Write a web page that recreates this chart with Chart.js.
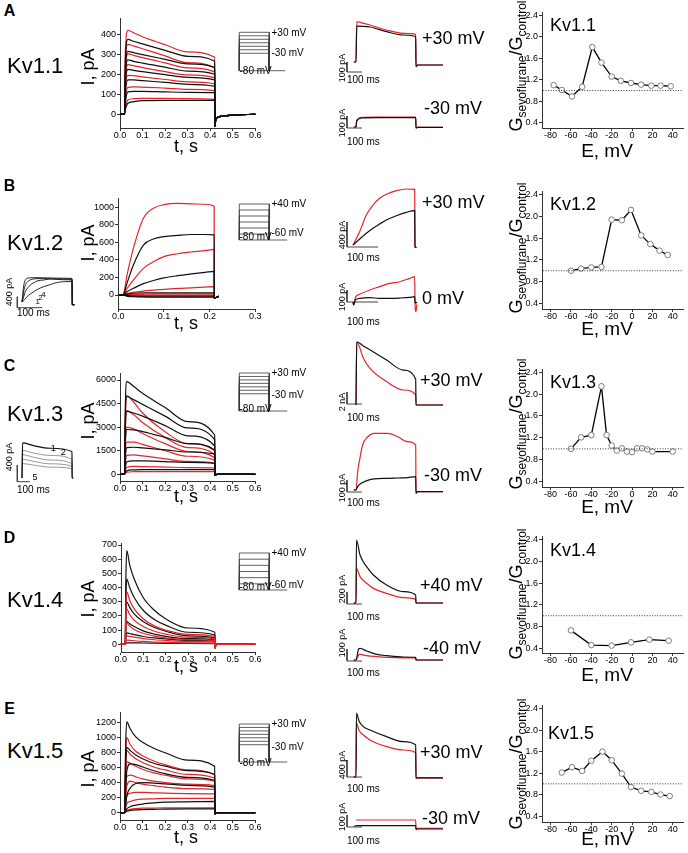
<!DOCTYPE html>
<html><head><meta charset="utf-8">
<script src="https://cdn.jsdelivr.net/npm/chart.js@4.4.1/dist/chart.umd.min.js"></script>
<style>
html,body{margin:0;padding:0;background:#fff;}
#fig{position:relative;width:688px;height:853px;overflow:hidden;background:#fff;font-family:'Liberation Sans',Arial,Helvetica,sans-serif;color:#000;}
.t{position:absolute;white-space:nowrap;line-height:1;}
canvas{position:absolute;}
</style></head><body><div id="fig"></div>
<script>
// ===================== DATA =====================
// ---- whole-cell current families (t in s, I in pA) ----
const A_preT = [0, 0.0195];
const A_t = [0.020, 0.024, 0.035, 0.06, 0.1, 0.2, 0.3, 0.42];
const A_ctrl = [
  [0, 280, 375, 365, 352, 320, 290, 265],
  [0, 230, 315, 308, 298, 275, 252, 235],
  [0, 190, 272, 265, 256, 236, 216, 200],
  [0, 150, 225, 220, 213, 198, 185, 172],
  [0, 105, 172, 172, 168, 160, 150, 140],
  [0, 60, 112, 115, 115, 112, 110, 108],
  [0, 25, 55, 63, 68, 70, 70, 70]];
const A_sevo = [
  [0, 320, 420, 408, 388, 348, 312, 285],
  [0, 260, 350, 342, 328, 292, 258, 230],
  [0, 215, 302, 295, 283, 257, 232, 212],
  [0, 170, 248, 243, 233, 213, 197, 182],
  [0, 125, 195, 193, 187, 174, 162, 152],
  [0, 75, 135, 137, 136, 131, 125, 118],
  [0, 35, 72, 78, 80, 80, 78, 75]];
const A_tailT = [0.4205, 0.425, 0.44, 0.5, 0.6];
const A_tail = [-60, -25, -12, -4, 0];
const A_xTicks = [0, 0.1, 0.2, 0.3, 0.4, 0.5, 0.6];
const A_yTicks = [0, 100, 200, 300, 400];

const B_preT = [0, 0.009];
const B_t = [0.010, 0.02, 0.033, 0.055, 0.077, 0.1, 0.13, 0.16, 0.19, 0.21];
const B_ctrl = [
  [0, 150, 342, 570, 639, 665, 680, 690, 690, 685],
  [0, 40, 76, 130, 165, 195, 220, 240, 258, 270],
  [0, 10, 20, 25, 25, 25, 25, 25, 25, 25],
  [0, -5, -10, -10, -10, -10, -10, -10, -10, -10],
  [0, -15, -20, -22, -25, -25, -25, -25, -25, -25]];
const B_sevo = [
  [0, 250, 532, 875, 990, 1030, 1045, 1040, 1035, 1010],
  [0, 80, 170, 304, 380, 437, 470, 490, 505, 520],
  [0, 15, 30, 45, 55, 65, 75, 82, 90, 95],
  [0, 5, 5, 8, 10, 10, 10, 10, 10, 10],
  [0, -10, -15, -18, -20, -20, -20, -20, -20, -20]];
const B_tailT = [0.2101, 0.215, 0.22];
const B_tail = [-35, -25, -15];
const B_xTicks = [0, 0.1, 0.2, 0.3];
const B_yTicks = [0, 200, 400, 600, 800, 1000];

const C_preT = [0, 0.0195];
const C_t = [0.020, 0.024, 0.03, 0.06, 0.1, 0.2, 0.3, 0.42];
const C_ctrl = [
  [0, 4500, 5900, 5600, 5150, 4250, 3350, 2500],
  [0, 3800, 4950, 4750, 4450, 3700, 2950, 2200],
  [0, 3000, 4000, 3900, 3700, 3100, 2450, 1800],
  [0, 2000, 2850, 2830, 2720, 2350, 1950, 1550],
  [0, 1100, 1700, 1720, 1680, 1560, 1420, 1280],
  [0, 450, 800, 850, 850, 810, 760, 700],
  [0, 100, 220, 280, 300, 300, 300, 300]];
const C_sevo = [
  [0, 3800, 5000, 4600, 3900, 2700, 1950, 1500],
  [0, 3100, 4050, 3800, 3300, 2350, 1700, 1250],
  [0, 2300, 3000, 2900, 2600, 1950, 1450, 1050],
  [0, 1500, 2050, 2050, 1900, 1500, 1150, 900],
  [0, 750, 1200, 1230, 1170, 980, 820, 700],
  [0, 250, 450, 500, 490, 460, 430, 400],
  [0, 60, 130, 165, 170, 170, 170, 170]];
const C_tailT = [0.4205, 0.43, 0.6];
const C_tail = [-60, 0, 0];
const C_xTicks = [0, 0.1, 0.2, 0.3, 0.4, 0.5, 0.6];
const C_yTicks = [0, 1500, 3000, 4500, 6000];

const D_preT = [0, 0.0195];
const D_t = [0.020, 0.023, 0.027, 0.04, 0.06, 0.1, 0.15, 0.2, 0.3, 0.42];
const D_ctrl = [
  [0, 450, 660, 560, 460, 330, 240, 180, 115, 85],
  [0, 320, 460, 400, 330, 240, 175, 135, 85, 65],
  [0, 200, 300, 260, 215, 160, 118, 92, 60, 45],
  [0, 100, 160, 145, 125, 95, 72, 56, 40, 32],
  [0, 45, 80, 76, 68, 55, 45, 38, 28, 22],
  [0, 5, 10, 10, 10, 9, 8, 7, 6, 5]];
const D_sevo = [
  [0, 260, 370, 310, 250, 180, 130, 100, 70, 55],
  [0, 170, 250, 210, 170, 125, 92, 72, 50, 38],
  [0, 95, 150, 128, 105, 78, 58, 45, 33, 26],
  [0, 35, 60, 56, 50, 40, 32, 27, 20, 16],
  [0, 15, 30, 28, 25, 20, 16, 13, 10, 8]];
const D_tailT = [0.4205, 0.425, 0.6];
const D_tail = [-25, 0, 0];
const D_xTicks = [0, 0.1, 0.2, 0.3, 0.4, 0.5, 0.6];
const D_yTicks = [0, 100, 200, 300, 400, 500, 600, 700];

const E_preT = [0, 0.0195];
const E_t = [0.020, 0.025, 0.03, 0.045, 0.07, 0.1, 0.15, 0.2, 0.3, 0.42];
const E_ctrl = [
  [0, 900, 1210, 1120, 1010, 940, 860, 800, 700, 620],
  [0, 600, 870, 830, 770, 720, 660, 620, 560, 510],
  [0, 300, 550, 650, 640, 610, 560, 520, 470, 430],
  [0, 100, 220, 330, 390, 400, 395, 385, 365, 340],
  [0, 20, 50, 80, 100, 115, 130, 140, 145, 150],
  [0, 10, 20, 30, 38, 42, 45, 48, 50, 50]];
const E_sevo = [
  [0, 750, 1000, 910, 820, 760, 690, 640, 570, 505],
  [0, 600, 830, 780, 720, 670, 610, 570, 510, 460],
  [0, 450, 680, 660, 620, 580, 530, 500, 450, 420],
  [0, 300, 480, 500, 480, 450, 420, 400, 380, 360],
  [0, 200, 350, 420, 400, 380, 360, 340, 320, 310],
  [0, 120, 220, 260, 270, 270, 265, 260, 255, 250],
  [0, 60, 120, 150, 170, 180, 185, 190, 190, 190],
  [0, 15, 30, 45, 55, 60, 62, 64, 65, 65]];
const E_tailT = [0.4205, 0.43, 0.6];
const E_tail = [-15, 0, 0];
const E_xTicks = [0, 0.1, 0.2, 0.3, 0.4, 0.5, 0.6];
const E_yTicks = [0, 200, 400, 600, 800, 1000, 1200];

// ---- voltage protocols (mV) ----
const HOLD = -80;
const A_steps = [-30, -20, -10, 0, 10, 20, 30];
const B_steps = [-60, -40, -20, 0, 20, 40];
const C_steps = [-30, -20, -10, 0, 10, 20, 30];
const D_steps = [-60, -40, -20, 0, 20, 40];
const E_steps = [-30, -20, -10, 0, 10, 20, 30];

// ---- example traces (t in ms; I in pA, C1 in nA) ----
const A1_t = [-15, 0, 5, 20, 93, 204, 316, 398, 400, 410, 580];
const A1_ctrl = [0, 0, 360, 358, 350, 303, 270, 253, -47, -30, -30];
const A1_sevo = [0, 0, 403, 398, 370, 320, 287, 277, -47, -30, -30];
const A2_t = [-15, 0, 5, 40, 150, 300, 398, 400, 410, 580];
const A2_ctrl = [0, 0, 50, 75, 78, 78, 78, -8, -3, -3];
const A2_sevo = [0, 0, 58, 80, 82, 83, 82, -8, -3, -3];
const B1_t = [0, 21.5, 43, 64.5, 86, 107.5, 140, 172, 199, 200, 205];
const B1_ctrl = [0, 96, 187, 267, 336, 400, 469, 523, 549, -30, -40];
const B1_sevo = [0, 213, 480, 640, 747, 811, 869, 896, 891, -30, -40];
const B2_t = [0, 2, 8, 21.5, 54, 86, 118, 151, 183, 199, 200, 203, 206];
const B2_ctrl = [0, -25, 17, 30, 36, 31, 31, 33, 38, 44, 0, -10, 0];
const B2_sevo = [0, -25, 40, 64, 100, 128, 155, 169, 197, 211, 0, -80, -20];
const C1_t = [0, 5, 49, 93, 204, 316, 398, 400, 410, 580];
const C1_ctrl = [0, 10.5, 9.85, 9.2, 7.5, 5.8, 4.3, 0, 0, 0];
const C1_sevo = [0, 10.5, 7.8, 6.1, 3.9, 2.5, 1.7, 0, 0, 0];
const C2_t = [-15, 0, 11, 22, 44, 78, 122, 211, 278, 344, 398, 400, 410, 580];
const C2_ctrl = [0, 0, 28, 45, 62, 80, 92, 97, 100, 103, 111, -28, -14, -14];
const C2_sevo = [0, 0, 150, 236, 375, 444, 472, 472, 444, 403, 375, -28, -14, -14];
const D1_t = [-15, 0, 3, 27, 71, 116, 204, 316, 398, 400, 580];
const D1_ctrl = [0, 0, 1050, 800, 605, 467, 300, 189, 133, 0, 0];
const D1_sevo = [0, 0, 578, 439, 328, 244, 161, 89, 61, 0, 0];
const D2_t = [-15, 0, 18, 27, 71, 138, 204, 316, 398, 400, 580];
const D2_ctrl = [0, 0, 92, 97, 75, 47, 36, 25, 22, 0, 0];
const D2_sevo = [0, 0, 42, 47, 36, 28, 22, 18, 17, 0, 0];
const E1_t = [-15, 0, 3, 20, 49, 93, 204, 316, 398, 400, 410, 580];
const E1_ctrl = [0, 0, 1506, 1320, 1184, 1106, 949, 831, 753, -30, -20, -20];
const E1_sevo = [0, 0, 1271, 1100, 988, 871, 714, 635, 573, -30, -20, -20];
const E2_t = [-15, 0, 2, 200, 398, 400, 410, 580];
const E2_ctrl = [0, 0, 3, 3, 3, -25, -25, -25];
const E2_sevo = [null, 50, 50, 50, 50, -33, -20, -20];

// ---- small insets (B: Kv1.2 pulses 1-4; C: Kv1.3 pulses 1-5) ----
const Bi_t = [0, 7, 13, 20, 33, 47, 60, 87, 113, 127, 167, 200, 201, 210];
const Bi_traces = [
  [0, 60, 110, 194, 290, 376, 450, 558, 630, 679, 739, 745, -100, -100],
  [0, 200, 376, 480, 618, 700, 764, 800, 836, 830, 810, 800, -100, -100],
  [0, 400, 600, 720, 800, 840, 850, 850, 845, 840, 835, 830, -100, -100],
  [0, 600, 800, 860, 880, 884, 884, 880, 875, 870, 865, 860, -100, -100]];
const Ci_t = [0, 5, 91, 224, 400, 401, 410];
const Ci_traces = [
  [0, 840, 776, 714, 635, 0, 0],
  [0, 659, 600, 541, 447, 0, 0],
  [0, 557, 500, 430, 345, 0, 0],
  [0, 447, 400, 340, 282, 0, 0],
  [0, 345, 310, 260, 227, 0, 0]];

// ---- G_sevoflurane / G_control vs E (mV) ----
const G_A_E = [-77, -69, -59, -49, -39, -30, -20, -11, -1, 9, 19, 28, 38];
const G_A = [1.10, 1.01, 0.89, 1.07, 1.81, 1.52, 1.26, 1.18, 1.14, 1.11, 1.09, 1.09, 1.08];
const G_B_E = [-60, -50, -40, -30, -20, -10, -1, 9, 18, 27, 35];
const G_B = [1.00, 1.04, 1.06, 1.07, 1.94, 1.93, 2.12, 1.65, 1.49, 1.37, 1.29];
const G_C_E = [-60, -50, -40, -30, -25, -20, -15, -10, -5, 0, 5, 10, 15, 20, 40];
const G_C = [1.00, 1.21, 1.25, 2.14, 1.25, 1.06, 0.97, 1.01, 0.95, 0.94, 1.01, 1.01, 0.99, 0.95, 0.95];
const G_D_E = [-60, -40, -20, -1, 17, 36];
const G_D = [0.73, 0.46, 0.45, 0.51, 0.56, 0.54];
const G_E_E = [-69, -59, -49, -40, -29, -20, -10, -1, 9, 19, 28, 37];
const G_E = [1.21, 1.31, 1.24, 1.43, 1.60, 1.44, 1.19, 0.94, 0.87, 0.85, 0.80, 0.77];
const G_xTicks = [-80, -60, -40, -20, 0, 20, 40];
const G_yTicks = [0.4, 0.8, 1.2, 1.6, 2.0, 2.4];
const G_REF = 1.0;

// ===================== DRAWING =====================
const FONT = "'Liberation Sans', Arial, Helvetica, sans-serif";
Chart.defaults.font.family = FONT;
Chart.defaults.color = '#000';
const BLACK = '#111111', RED = '#e3252b', GRAYL = '#8c8c8c', AXC = '#333333';
const fig = document.getElementById('fig');

function canvasAt(l, t, w, h) {
  const c = document.createElement('canvas');
  c.width = w; c.height = h;
  c.style.left = l + 'px'; c.style.top = t + 'px';
  c.style.width = w + 'px'; c.style.height = h + 'px';
  fig.appendChild(c);
  return c;
}
function pv(p0, v0, p1, v1) { return p => v0 + (p - p0) * (v1 - v0) / (p1 - p0); }
function pts(xs, ys) { return xs.map((x, i) => ({ x: x, y: ys[i] })); }
function line(data, color, width, extra) {
  return Object.assign({ data: data, borderColor: color, backgroundColor: color, borderWidth: width,
    pointRadius: 0, fill: false, cubicInterpolationMode: 'monotone', clip: false, spanGaps: false }, extra || {});
}
function straight(data, color, width, extra) {
  return line(data, color, width, Object.assign({ cubicInterpolationMode: 'default', tension: 0 }, extra || {}));
}
function baseOpts() {
  return { responsive: false, animation: false, events: [],
    plugins: { legend: { display: false }, tooltip: { enabled: false }, title: { display: false } } };
}

function axisChart(o) {
  const [l, t, r, b] = o.area, P = o.pad;
  const cv = canvasAt(l - P[0], t - P[1], r - l + P[0] + P[2], b - t + P[1] + P[3]);
  const fx = pv(o.xa[0], o.xa[1], o.xa[2], o.xa[3]);
  const fy = pv(o.ya[0], o.ya[1], o.ya[2], o.ya[3]);
  const ax = (isX, min, max, ticks, fmt) => ({
    type: 'linear', min: min, max: max, position: isX ? 'bottom' : 'left',
    afterFit: s => { if (isX) s.height = P[3]; else s.width = P[0]; },
    afterBuildTicks: s => { s.ticks = ticks.map(v => ({ value: v })); },
    ticks: { autoSkip: false, maxRotation: 0, minRotation: 0, padding: isX ? -0.5 : 1,
      font: { size: 9, family: FONT }, color: '#000', callback: v => fmt(v) },
    grid: { drawOnChartArea: false, drawTicks: true, tickLength: 3, tickColor: AXC, tickWidth: 1, color: AXC },
    border: { display: true, color: AXC, width: 1 }
  });
  const opts = baseOpts();
  opts.layout = { padding: { left: 0, top: P[1], right: P[2], bottom: 0 } };
  opts.scales = { x: ax(true, fx(l), fx(r), o.xt, o.xf), y: ax(false, fy(b), fy(t), o.yt, o.yf) };
  new Chart(cv, { type: 'line', data: { datasets: o.ds }, options: opts });
}

function plainChart(box, xr, yr, datasets) {
  const cv = canvasAt(box[0], box[1], box[2], box[3]);
  const opts = baseOpts();
  opts.layout = { padding: 0 };
  opts.scales = { x: { type: 'linear', display: false, min: xr[0], max: xr[1] },
                  y: { type: 'linear', display: false, min: yr[0], max: yr[1] } };
  new Chart(cv, { type: 'line', data: { datasets: datasets }, options: opts });
}

function familySets(preT, t, tailT, tail, ctrl, sevo, redFirst) {
  const all = [...preT, ...t, ...tailT];
  const mk = (v, c) => line(pts(all, [...preT.map(() => 0), ...v, ...tail]), c, 1.2);
  const k = ctrl.map(v => mk(v, BLACK)), s = sevo.map(v => mk(v, RED));
  return redFirst ? [...s, ...k] : [...k, ...s];
}
const f1 = v => v.toFixed(1), f0 = v => String(v);
const MPAD = [40, 8, 10, 16];

// main current families
axisChart({ area: [120, 18, 255, 128], pad: MPAD, xa: [120, 0, 255.3, 0.6], ya: [114.3, 0, 34.3, 400],
  xt: A_xTicks, yt: A_yTicks, xf: f1, yf: f0, ds: familySets(A_preT, A_t, A_tailT, A_tail, A_ctrl, A_sevo, false) });
axisChart({ area: [118, 198, 255, 309], pad: MPAD, xa: [118.3, 0, 255.3, 0.3], ya: [295, 0, 207.3, 1000],
  xt: B_xTicks, yt: B_yTicks, xf: f1, yf: f0, ds: familySets(B_preT, B_t, B_tailT, B_tail, B_ctrl, B_sevo, false) });
axisChart({ area: [120, 373, 255, 481], pad: MPAD, xa: [120, 0, 255.3, 0.6], ya: [474.3, 0, 380, 6000],
  xt: C_xTicks, yt: C_yTicks, xf: f1, yf: f0, ds: familySets(C_preT, C_t, C_tailT, C_tail, C_ctrl, C_sevo, false) });
axisChart({ area: [121, 543, 255, 652], pad: MPAD, xa: [120.7, 0, 255.3, 0.6], ya: [644.3, 0, 545, 700],
  xt: D_xTicks, yt: D_yTicks, xf: f1, yf: f0, ds: familySets(D_preT, D_t, D_tailT, D_tail, D_ctrl, D_sevo, true) });
axisChart({ area: [120, 712, 255, 820], pad: MPAD, xa: [120, 0, 255.3, 0.6], ya: [812.7, 0, 722.7, 1200],
  xt: E_xTicks, yt: E_yTicks, xf: f1, yf: f0, ds: familySets(E_preT, E_t, E_tailT, E_tail, E_ctrl, E_sevo, false) });

// G ratio charts
function gChart(area, yT, yB, E, G) {
  axisChart({ area: area, pad: [30, 6, 3, 16], xa: [633.3, 0, 674.6, 40], ya: [yT, 2.4, yB, 0.4],
    xt: G_xTicks, yt: G_yTicks, xf: f0, yf: f1,
    ds: [
      straight(pts([-200, 200], [G_REF, G_REF]), '#222', 0.9, { borderDash: [1, 1.6], clip: 0 }),
      straight(pts(E, G), '#000', 1.3, { pointRadius: 2.8, pointBorderColor: '#7d7d7d', pointBackgroundColor: '#fff', pointBorderWidth: 1 })
    ] });
}
gChart([542, 12, 685, 128], 15, 122.7, G_A_E, G_A);
gChart([542, 191, 685, 309], 194.3, 303.3, G_B_E, G_B);
gChart([542, 369, 685, 487], 371.7, 481.7, G_C_E, G_C);
gChart([542, 536, 685, 653], 539.3, 648.3, G_D_E, G_D);
gChart([542, 705, 685, 822], 708.3, 816, G_E_E, G_E);

// voltage protocols
function protoChart(box, topPx, topV, botPx, steps, tailEnd) {
  const x0 = 239.3, xs = 30;
  const fy = pv(topPx, topV, botPx, HOLD);
  const xr = [(box[0] - x0) / xs, (box[0] + box[2] - x0) / xs];
  const yr = [fy(box[1] + box[3]), fy(box[1])];
  const ds = steps.map(v => straight(pts([0, 0, 1, 1], [HOLD, v, v, HOLD]), '#3a3a3a', 0.8));
  ds.push(straight(pts([0, tailEnd], [HOLD, HOLD]), '#3a3a3a', 0.8));
  plainChart(box, xr, yr, ds);
}
protoChart([234, 26, 58, 50], 32.3, 30, 70.7, A_steps, 1.53);
protoChart([234, 198, 58, 48], 204, 40, 240, B_steps, 1.6);
protoChart([234, 368, 58, 48], 373, 30, 411, C_steps, 1.6);
protoChart([234, 548, 58, 48], 553, 40, 590, D_steps, 1.6);
protoChart([234, 719, 58, 48], 724, 30, 762, E_steps, 1.6);

// example traces with calibration bars
function traceChart(c, sets, bar) {
  const [l, t, w, h] = c.box;
  const xr = [(l - c.x0) / c.xs, (l + w - c.x0) / c.xs];
  const yr = [(c.y0 - (t + h)) / c.ys, (c.y0 - t) / c.ys];
  const bx = (bar.px - c.x0) / c.xs, by = (c.y0 - bar.py) / c.ys;
  sets.push(straight(pts([bx, bx, bx + bar.dx], [by + bar.dy, by, by]), '#444', 1));
  plainChart(c.box, xr, yr, sets);
}
function pair(t, k, s, w) { return [line(pts(t, k), BLACK, w || 1.2), line(pts(t, s), RED, w || 1.2)]; }
traceChart({ box: [335, 10, 118, 75], x0: 356, xs: 0.15, y0: 62, ys: 0.1 }, pair(A1_t, A1_ctrl, A1_sevo), { px: 347, py: 72, dx: 100, dy: 100 });
traceChart({ box: [335, 100, 118, 35], x0: 356, xs: 0.15, y0: 127, ys: 0.12 }, pair(A2_t, A2_ctrl, A2_sevo), { px: 347, py: 128, dx: 100, dy: 100 });
traceChart({ box: [335, 180, 118, 75], x0: 353, xs: 0.31, y0: 245, ys: 0.0625 }, pair(B1_t, B1_ctrl, B1_sevo), { px: 347, py: 247, dx: 100, dy: 400 });
traceChart({ box: [335, 265, 118, 55], x0: 353, xs: 0.31, y0: 302, ys: 0.12 }, pair(B2_t, B2_ctrl, B2_sevo), { px: 347, py: 302, dx: 100, dy: 100 });
traceChart({ box: [335, 335, 118, 80], x0: 356, xs: 0.15, y0: 405, ys: 6 }, pair(C1_t, C1_ctrl, C1_sevo), { px: 347, py: 404, dx: 100, dy: 2 });
traceChart({ box: [335, 425, 118, 75], x0: 356, xs: 0.15, y0: 490, ys: 0.12 }, pair(C2_t, C2_ctrl, C2_sevo), { px: 347, py: 492, dx: 100, dy: 100 });
traceChart({ box: [335, 530, 118, 85], x0: 356, xs: 0.15, y0: 603, ys: 0.06 }, pair(D1_t, D1_ctrl, D1_sevo), { px: 347, py: 604, dx: 100, dy: 200 });
traceChart({ box: [335, 630, 118, 40], x0: 356, xs: 0.15, y0: 660, ys: 0.12 }, pair(D2_t, D2_ctrl, D2_sevo), { px: 347, py: 661, dx: 100, dy: 100 });
traceChart({ box: [335, 700, 118, 90], x0: 356, xs: 0.15, y0: 777, ys: 0.0425 }, pair(E1_t, E1_ctrl, E1_sevo), { px: 347, py: 777, dx: 100, dy: 400 });
traceChart({ box: [335, 805, 118, 35], x0: 356, xs: 0.15, y0: 826, ys: 0.12 }, pair(E2_t, E2_ctrl, E2_sevo), { px: 347, py: 827, dx: 100, dy: 100 });
traceChart({ box: [12, 270, 70, 45], x0: 22, xs: 0.25, y0: 302, ys: 0.0275 },
  Bi_traces.map(v => line(pts(Bi_t, v), BLACK, 0.9)), { px: 17.3, py: 307.7, dx: 100, dy: 400 });
traceChart({ box: [12, 435, 70, 55], x0: 22, xs: 0.125, y0: 478, ys: 0.0417 },
  Ci_traces.map((v, i) => line(pts(Ci_t, v), i === 0 ? BLACK : GRAYL, i === 0 ? 1.2 : 0.9)), { px: 17.3, py: 481.7, dx: 100, dy: 400 });

// ===================== TEXT =====================
function txt(s, x, y, size, o) {
  o = o || {};
  const d = document.createElement('div');
  d.className = 't';
  d.innerHTML = s;
  d.style.fontSize = size + 'px';
  d.style.left = x + 'px'; d.style.top = y + 'px';
  let tr = (o.center || o.rot) ? 'translate(-50%,-50%)' : 'translate(0,-50%)';
  if (o.rot) tr += ' rotate(-90deg)';
  d.style.transform = tr;
  if (o.bold) d.style.fontWeight = 'bold';
  fig.appendChild(d);
}
// panel letters
[['A', 11], ['B', 185.5], ['C', 366], ['D', 537.5], ['E', 709]].forEach(p => txt(p[0], 9.5, p[1], 16, { center: true, bold: true }));
// channel names
[['Kv1.1', 65.8], ['Kv1.2', 242.5], ['Kv1.3', 414], ['Kv1.4', 600], ['Kv1.5', 750.8]].forEach(p => txt(p[0], 7, p[1], 22));
// main axis titles
[66.7, 242.5, 420.5, 599, 768.5].forEach(y => txt('I, pA', 88, y, 18, { rot: true }));
[146, 323, 496, 666, 836.5].forEach(y => txt('t, s', 186, y, 18, { center: true }));
// protocol labels
const protoLab = [
  ['+30 mV', 33.3, '-30 mV', 53.3, 71], ['+40 mV', 204, '-60 mV', 233.3, 236.7],
  ['+30 mV', 373.3, '-30 mV', 395, 409], ['+40 mV', 553.3, '-60 mV', 585, 586.7],
  ['+30 mV', 724.3, '-30 mV', 746.7, 763.3]];
protoLab.forEach(p => { txt(p[0], 271.5, p[1], 10); txt(p[2], 271.5, p[3], 10); txt('-80 mV', 239.5, p[4], 10); });
// example-trace labels
[['+30 mV', 422, 38], ['-30 mV', 424, 108.3], ['+30 mV', 422, 201.7], ['0 mV', 422, 298.3],
 ['+30 mV', 420, 380], ['-30 mV', 424, 475], ['+40 mV', 420, 585], ['-40 mV', 423, 647.7],
 ['+30 mV', 420, 751.7], ['-30 mV', 422, 818.3]].forEach(p => txt(p[0], p[1], p[2], 18));
// calibration labels
[['100 pA', 68.3, 80], ['100 pA', 123, 141.7], ['400 pA', 235, 257.7], ['100 pA', 296.7, 321.7],
 ['2 nA', 402, 418.3], ['100 pA', 487.5, 503], ['200 pA', 589, 616.7], ['100 pA', 643, 673.3],
 ['400 pA', 765, 789.3], ['100 pA', 816.7, 840.7]].forEach(p => { txt(p[0], 341.5, p[1], 9, { rot: true }); txt('100 ms', 347, p[2], 10); });
txt('400 pA', 9, 291.7, 9, { rot: true }); txt('100 ms', 17, 313.3, 10);
txt('400 pA', 9, 456.7, 9, { rot: true }); txt('100 ms', 17, 490, 10);
txt('1', 37.7, 301.7, 8, { center: true }); txt('2', 40.6, 298, 8, { center: true }); txt('4', 43.6, 295, 8, { center: true });
txt('1', 53.3, 448.3, 9, { center: true }); txt('2', 63.3, 452.3, 9, { center: true }); txt('5', 35, 476.7, 9, { center: true });
// G chart labels
[['Kv1.1', 550, 25], ['Kv1.2', 550, 204], ['Kv1.3', 550, 382], ['Kv1.4', 550, 550], ['Kv1.5', 548, 733]].forEach(p => txt(p[0], p[1], p[2], 18));
const gTitle = 'G<span style="font-size:12px;position:relative;top:4px">sevoflurane</span>/G<span style="font-size:12px;position:relative;top:4px">control</span>';
[66, 248, 424, 594, 764].forEach(y => txt(gTitle, 515.5, y, 18, { rot: true }));
[150, 328, 506, 674, 838].forEach(y => txt('E, mV', 607, y, 19, { center: true }));
</script></body></html>
